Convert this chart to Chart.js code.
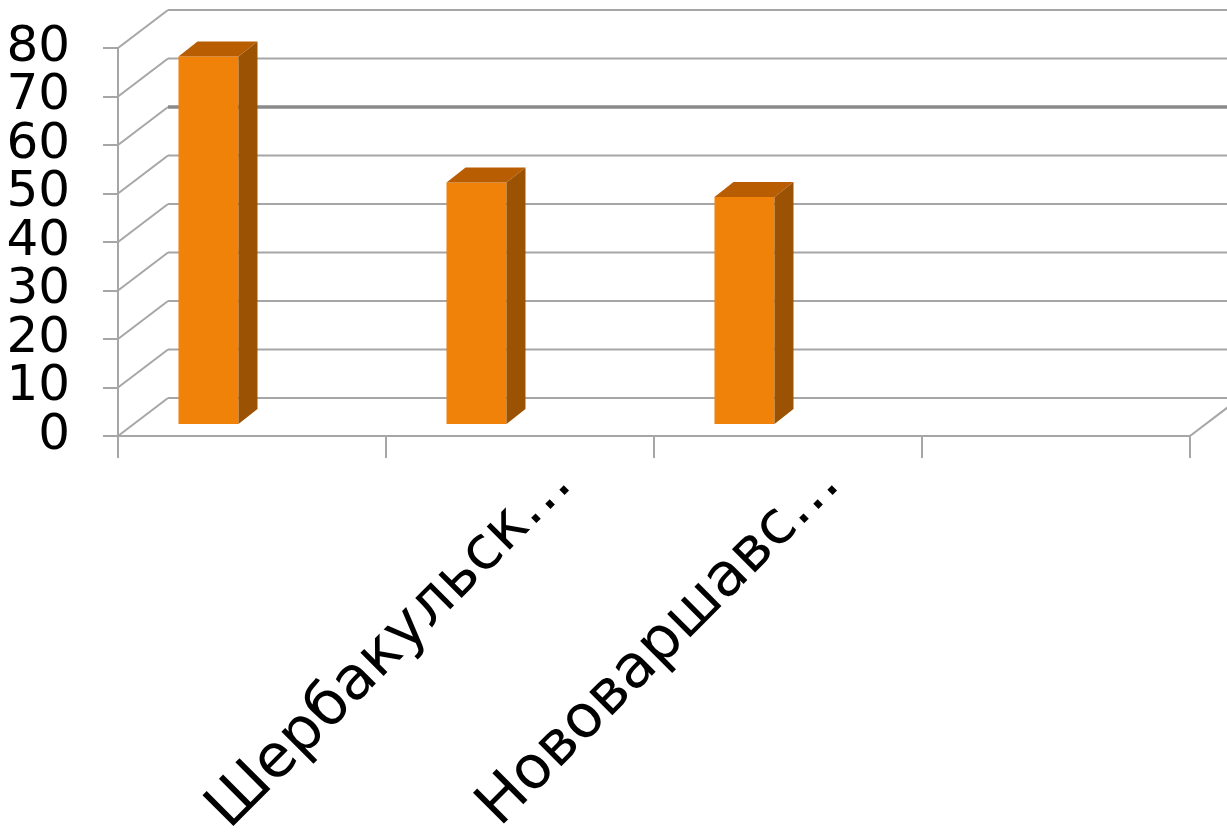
<!DOCTYPE html>
<html>
<head>
<meta charset="utf-8">
<script src="https://cdn.jsdelivr.net/npm/chart.js@4.4.0/dist/chart.umd.min.js"></script>
<style>
  html, body { margin: 0; padding: 0; background: #fff; }
</style>
</head>
<body>
<canvas id="chart" width="1227" height="838"></canvas>
<script>
const categories = ["", "Шербакульск…", "Нововаршавс…", ""];
const seriesMain = [76, 50, 47, null];
const seriesEmpty = [null, null, null, null];
const yMin = 0;
const yMax = 80;
const yStep = 10;

// 3d look: back wall offset, bar depth position, bar thickness
const WALL_DX = 50, WALL_DY = 38;
const BAR_DX = 14.5, BAR_DY = 11;
const SIDE_DX = 19, SIDE_DY = 15;
const LINE = "#a6a6a6";
const FONT = "'DejaVu Sans', Verdana, sans-serif";

const wallsPlugin = {
  id: "walls",
  beforeDatasetsDraw(chart) {
    const { ctx, chartArea } = chart;
    const yScale = chart.scales.y;
    ctx.save();
    ctx.lineCap = "butt";
    for (const tick of yScale.ticks) {
      const py = yScale.getPixelForValue(tick.value);
      ctx.strokeStyle = LINE;
      ctx.lineWidth = 2;
      ctx.beginPath();
      ctx.moveTo(chartArea.left, py);
      ctx.lineTo(chartArea.left + WALL_DX, py - WALL_DY);
      ctx.stroke();
      const heavy = tick.value === 60;
      ctx.strokeStyle = heavy ? "#8a8a8a" : LINE;
      ctx.lineWidth = heavy ? 3.5 : 2;
      ctx.beginPath();
      ctx.moveTo(chartArea.left + WALL_DX, py - WALL_DY);
      ctx.lineTo(chart.width + 20, py - WALL_DY);
      ctx.stroke();
    }
    const y0 = yScale.getPixelForValue(0);
    ctx.strokeStyle = LINE;
    ctx.lineWidth = 2;
    ctx.beginPath();
    ctx.moveTo(chartArea.right, y0);
    ctx.lineTo(chartArea.right + WALL_DX, y0 - WALL_DY);
    ctx.stroke();
    ctx.restore();

    ctx.save();
    ctx.translate(BAR_DX, -BAR_DY);
  },
  afterDatasetsDraw(chart) {
    const { ctx } = chart;
    chart.data.datasets.forEach((ds, i) => {
      const meta = chart.getDatasetMeta(i);
      meta.data.forEach((bar, j) => {
        if (ds.data[j] == null) return;
        const { x, y, base, width } = bar.getProps(["x", "y", "base", "width"], true);
        const left = x - width / 2;
        const right = x + width / 2;
        ctx.fillStyle = "#b95d03";
        ctx.beginPath();
        ctx.moveTo(left, y);
        ctx.lineTo(left + SIDE_DX, y - SIDE_DY);
        ctx.lineTo(right + SIDE_DX, y - SIDE_DY);
        ctx.lineTo(right, y);
        ctx.closePath();
        ctx.fill();
        ctx.fillStyle = "#9b5202";
        ctx.beginPath();
        ctx.moveTo(right, y);
        ctx.lineTo(right + SIDE_DX, y - SIDE_DY);
        ctx.lineTo(right + SIDE_DX, base - SIDE_DY);
        ctx.lineTo(right, base);
        ctx.closePath();
        ctx.fill();
      });
    });
    ctx.restore();
  }
};

new Chart(document.getElementById("chart"), {
  type: "bar",
  data: {
    labels: categories,
    datasets: [
      {
        label: "Ряд 1",
        data: seriesMain,
        backgroundColor: "#f0820a",
        borderWidth: 0,
        categoryPercentage: 0.866,
        barPercentage: 0.517,
        clip: false,
      },
      {
        label: "Ряд 2",
        data: seriesEmpty,
        backgroundColor: "#4f81bd",
        borderWidth: 0,
        categoryPercentage: 0.866,
        barPercentage: 0.517,
        clip: false,
      },
    ],
  },
  options: {
    responsive: false,
    animation: false,
    layout: { padding: { top: 48, right: 37, left: 0, bottom: 0 } },
    plugins: {
      legend: { display: false },
      tooltip: { enabled: false },
    },
    scales: {
      x: {
        offset: true,
        grid: {
          offset: true,
          drawOnChartArea: false,
          tickLength: 22,
          color: LINE,
          lineWidth: 2,
        },
        border: { display: true, color: LINE, width: 2 },
        ticks: {
          autoSkip: false,
          minRotation: 45,
          maxRotation: 45,
          labelOffset: 43,
          padding: -9,
          color: "#000",
          font: { family: FONT, size: 60 },
        },
        afterFit(scale) {
          scale.height = 402;
          scale.paddingLeft = 0;
          scale.paddingRight = 0;
        },
      },
      y: {
        min: yMin,
        max: yMax,
        grid: {
          drawOnChartArea: false,
          tickLength: 15,
          color: LINE,
          lineWidth: 2,
        },
        border: { display: true, color: LINE, width: 2 },
        ticks: {
          stepSize: yStep,
          autoSkip: false,
          padding: 33,
          color: "#000",
          font: { family: FONT, size: 50 },
        },
        afterFit(scale) {
          scale.width = 118;
          scale.paddingTop = 0;
          scale.paddingBottom = 0;
        },
      },
    },
  },
  plugins: [wallsPlugin],
});
</script>
</body>
</html>
